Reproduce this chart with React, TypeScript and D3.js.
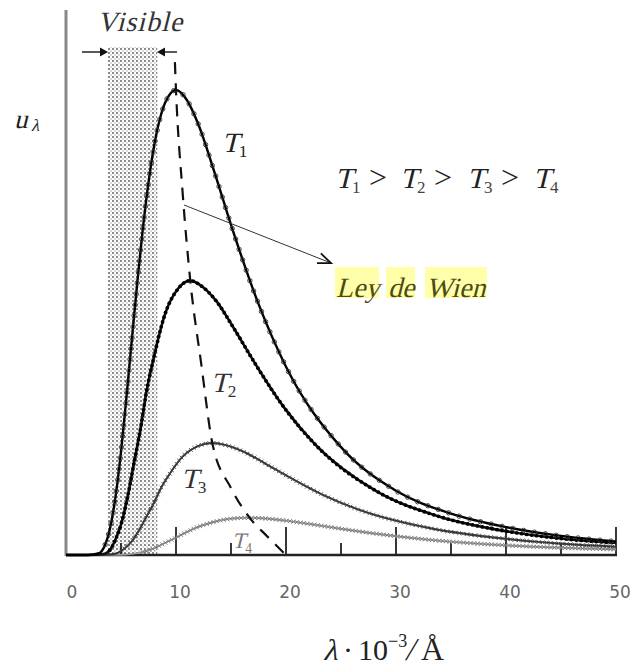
import React, { useEffect, useRef } from 'react'
import * as d3 from 'd3'

// curves (lambda in 10^3 A, u in arbitrary units, T1 peak = 100)
const t1X = [0, 2, 3, 3.5, 4, 4.5, 5, 5.5, 6, 6.5, 7, 8, 9, 10, 11, 12, 13.5, 15, 17.5, 20, 25, 30, 35, 40, 45, 50]
const t1Y = [0, 0, 0.4, 1.9, 5.7, 12.5, 22.2, 34.0, 46.7, 59.1, 70.5, 87.8, 97.2, 100, 97.8, 92.8, 82.3, 71.0, 54.0, 40.5, 23.2, 13.8, 8.9, 6.0, 4.1, 2.9]

const t2X = [0, 2, 3.4, 4.0, 4.5, 5.1, 5.65, 6.2, 6.8, 7.3, 7.9, 9.0, 10.2, 11.3, 12.4, 13.6, 15.3, 17.0, 19.8, 22.6, 28.25, 33.9, 39.55, 45.2, 50]
const t2Y = [0, 0, 0.22, 1.1, 3.33, 7.35, 13.1, 20.0, 27.5, 34.9, 41.6, 51.8, 57.3, 59, 57.7, 54.8, 48.6, 41.9, 31.8, 23.9, 13.7, 8.3, 5.3, 3.5, 2.6]

const t3X = [0, 2.5, 4.0, 4.7, 5.3, 6.0, 6.65, 7.3, 8.0, 8.6, 9.3, 10.6, 12.0, 13.3, 14.6, 16.0, 18.0, 20.0, 23.3, 26.6, 33.25, 39.9, 46.5, 50]
const t3Y = [0, 0, 0.09, 0.45, 1.36, 3.0, 5.35, 8.19, 11.25, 14.25, 16.99, 21.16, 23.43, 24.1, 23.57, 22.36, 19.83, 17.11, 13.0, 9.77, 5.7, 3.5, 2.2, 1.8]

const t4X = [0, 3, 5.0, 5.8, 6.6, 7.5, 8.3, 9.1, 10.0, 10.8, 11.6, 13.3, 14.9, 16.6, 18.3, 19.9, 22.4, 24.9, 29.05, 33.2, 41.5, 50]
const t4Y = [0, 0, 0.03, 0.15, 0.45, 1.0, 1.78, 2.72, 3.73, 4.73, 5.64, 7.02, 7.78, 8.0, 7.82, 7.42, 6.58, 5.68, 4.32, 3.24, 1.9, 1.2]

// Wien displacement locus (dashed)
const wienX = [9.9, 10, 10.6, 11.3, 12.3, 13.3, 15, 16.7, 18.3, 20]
const wienY = [106, 100, 78, 59, 41, 24.1, 14.4, 8, 4, 0]

const majorTicks = [10, 20, 30, 40, 50]
const minorTicks = [5, 15, 25, 35, 45]
const tickLabels = [0, 10, 20, 30, 40, 50]
const visibleRange = [3.8, 8.3]

const serif = 'Liberation Serif, Times New Roman, Tinos, DejaVu Serif, serif'

export default function App() {
  const ref = useRef<SVGSVGElement>(null)

  useEffect(() => {
    document.body.style.margin = '0'
    const svg = d3.select(ref.current)
    svg.selectAll('*').remove()

    const x = d3.scaleLinear().domain([0, 50]).range([66, 616])
    const y = d3.scaleLinear().domain([0, 100]).range([555, 90])
    const line = d3.line<[number, number]>()
      .x(d => x(d[0]))
      .y(d => y(d[1]))
      .curve(d3.curveMonotoneX)

    // plain serif text, and slanted serif (no italic face available)
    const txt = (tx: number, ty: number, s: string, size: number, color: string, anchor = 'start') =>
      svg.append('text').attr('x', tx).attr('y', ty).attr('text-anchor', anchor)
        .style('font-family', serif).attr('font-size', size).attr('fill', color).text(s)
    const ital = (tx: number, ty: number, s: string, size: number, color: string, anchor = 'start') =>
      svg.append('g').attr('transform', `translate(${tx},${ty}) skewX(-14)`)
        .append('text').attr('text-anchor', anchor)
        .style('font-family', serif).attr('font-size', size).attr('fill', color).text(s)

    // dotted pattern for visible band
    const defs = svg.append('defs')
    const pat = defs.append('pattern')
      .attr('id', 'dots')
      .attr('width', 4).attr('height', 4)
      .attr('patternUnits', 'userSpaceOnUse')
    pat.append('circle').attr('cx', 1).attr('cy', 1).attr('r', 0.9).attr('fill', '#555')
    pat.append('circle').attr('cx', 3).attr('cy', 3).attr('r', 0.8).attr('fill', '#aaa')

    svg.append('rect')
      .attr('x', x(visibleRange[0]))
      .attr('y', 47)
      .attr('width', x(visibleRange[1]) - x(visibleRange[0]))
      .attr('height', 555 - 47)
      .attr('fill', 'url(#dots)')

    // axes
    svg.append('line')
      .attr('x1', 66).attr('x2', 66).attr('y1', 10).attr('y2', 556)
      .attr('stroke', '#888').attr('stroke-width', 3)
    svg.append('line')
      .attr('x1', 66).attr('x2', x(50) + 1).attr('y1', 555).attr('y2', 555)
      .attr('stroke', '#222').attr('stroke-width', 2.5)

    svg.selectAll('.major').data(majorTicks).enter().append('line')
      .attr('x1', d => x(d)).attr('x2', d => x(d))
      .attr('y1', 555).attr('y2', 527)
      .attr('stroke', '#222').attr('stroke-width', 1.8)
    svg.selectAll('.minor').data(minorTicks).enter().append('line')
      .attr('x1', d => x(d)).attr('x2', d => x(d))
      .attr('y1', 555).attr('y2', 543)
      .attr('stroke', '#222').attr('stroke-width', 1.8)

    svg.selectAll('.tlabel').data(tickLabels).enter().append('text')
      .attr('x', d => x(d) + (d === 0 ? 6 : 4))
      .attr('y', 598)
      .attr('text-anchor', 'middle')
      .style('font-family', 'DejaVu Sans, Verdana, sans-serif')
      .attr('font-size', 17)
      .attr('fill', '#666')
      .text(d => d)

    const beads = (p: any, step: number, draw: (pt: DOMPoint) => void) => {
      const node = p.node() as SVGPathElement
      const L = node.getTotalLength()
      for (let s = 0; s <= L; s += step) {
        const pt = node.getPointAtLength(s)
        if (pt.y < 552) draw(pt)
      }
    }

    const zip = (a: number[], b: number[]) => a.map((v, i) => [v, b[i]] as [number, number])

    // T4 - grey dotted crosses
    const p4 = svg.append('path').attr('d', line(zip(t4X, t4Y)))
      .attr('fill', 'none').attr('stroke', '#999').attr('stroke-width', 1.6)
    const g4 = svg.append('g')
    beads(p4, 3.5, pt => {
      g4.append('path')
        .attr('d', `M${pt.x - 2},${pt.y - 2}L${pt.x + 2},${pt.y + 2}M${pt.x - 2},${pt.y + 2}L${pt.x + 2},${pt.y - 2}`)
        .attr('stroke', '#777').attr('stroke-width', 0.9)
    })

    // T3 - dark grey with crosses
    const p3 = svg.append('path').attr('d', line(zip(t3X, t3Y)))
      .attr('fill', 'none').attr('stroke', '#333').attr('stroke-width', 2)
    const g3 = svg.append('g')
    beads(p3, 4, pt => {
      g3.append('path')
        .attr('d', `M${pt.x - 1.8},${pt.y - 1.8}L${pt.x + 1.8},${pt.y + 1.8}M${pt.x - 1.8},${pt.y + 1.8}L${pt.x + 1.8},${pt.y - 1.8}`)
        .attr('stroke', '#444').attr('stroke-width', 0.9)
    })

    // T2 - black beaded
    const p2 = svg.append('path').attr('d', line(zip(t2X, t2Y)))
      .attr('fill', 'none').attr('stroke', '#111').attr('stroke-width', 2.6)
    const g2 = svg.append('g')
    beads(p2, 5, pt => {
      g2.append('circle').attr('cx', pt.x).attr('cy', pt.y).attr('r', 1.9).attr('fill', '#000')
    })

    // T1 - black with open circles
    const p1 = svg.append('path').attr('d', line(zip(t1X, t1Y)))
      .attr('fill', 'none').attr('stroke', '#000').attr('stroke-width', 2.4)
    const g1 = svg.append('g')
    beads(p1, 11, pt => {
      g1.append('circle').attr('cx', pt.x).attr('cy', pt.y).attr('r', 2.2)
        .attr('fill', 'none').attr('stroke', '#333').attr('stroke-width', 0.9)
    })

    // Wien dashed locus
    svg.append('path').attr('d', line(zip(wienX, wienY)))
      .attr('fill', 'none').attr('stroke', '#111').attr('stroke-width', 2.2)
      .attr('stroke-dasharray', '12,9')

    // Visible arrows
    const yA = 52
    svg.append('line').attr('x1', 82).attr('x2', 100).attr('y1', yA).attr('y2', yA)
      .attr('stroke', '#222').attr('stroke-width', 1.5)
    svg.append('path').attr('d', `M100,${yA - 4.5}L108,${yA}L100,${yA + 4.5}Z`).attr('fill', '#111')
    svg.append('line').attr('x1', 177).attr('x2', 165).attr('y1', yA).attr('y2', yA)
      .attr('stroke', '#222').attr('stroke-width', 1.5)
    svg.append('path').attr('d', `M165,${yA - 4.5}L157,${yA}L165,${yA + 4.5}Z`).attr('fill', '#111')

    ital(140, 31, 'Visible', 28, '#333', 'middle').attr('letter-spacing', 1)

    // Wien arrow
    const ax1 = 184, ay1 = 205, ax2 = 331, ay2 = 263
    svg.append('line').attr('x1', ax1).attr('y1', ay1).attr('x2', ax2).attr('y2', ay2)
      .attr('stroke', '#333').attr('stroke-width', 1)
    const ang = Math.atan2(ay2 - ay1, ax2 - ax1)
    const head = (da: number) => [ax2 - 14 * Math.cos(ang + da), ay2 - 14 * Math.sin(ang + da)]
    const hA = head(0.38), hB = head(-0.38)
    svg.append('path').attr('d', `M${hA[0]},${hA[1]}L${ax2},${ay2}L${hB[0]},${hB[1]}`)
      .attr('fill', 'none').attr('stroke', '#111').attr('stroke-width', 1.8)

    // Ley de Wien highlight
    const boxes = [[335, 44], [386, 29], [425, 62]]
    boxes.forEach(b => {
      svg.append('rect').attr('x', b[0]).attr('y', 267).attr('width', b[1]).attr('height', 31)
        .attr('fill', '#ffffaa')
    })
    ital(336, 297, 'Ley', 28, '#4b4b14')
    ital(388, 297, 'de', 28, '#4b4b14')
    ital(426, 297, 'Wien', 28, '#4b4b14')

    // T labels
    const tLabel = (tx: number, ty: number, sub: string, color: string, size = 28) => {
      ital(tx, ty, 'T', size, color)
      txt(tx + size * 0.6, ty + 5, sub, size * 0.62, color)
    }
    tLabel(222, 152, '1', '#222')
    tLabel(211, 392, '2', '#333')
    tLabel(181, 488, '3', '#333')
    tLabel(232, 548, '4', '#777', 22)

    // T1 > T2 > T3 > T4
    const relX = [335, 400, 467, 533]
    relX.forEach((rx, i) => {
      ital(rx, 188, 'T', 29, '#222')
      txt(rx + 17, 193, String(i + 1), 17, '#444')
      if (i < 3) txt(rx + 34, 188, '>', 32, '#222')
    })

    // u_lambda
    ital(14, 128, 'u', 27, '#222')
    ital(31, 131, 'λ', 17, '#222')

    // x axis title
    ital(323, 660, 'λ', 30, '#222')
    txt(348, 660, '·', 30, '#222', 'middle')
    txt(358, 660, '10', 30, '#222')
    txt(388, 647, '−3', 18, '#222')
    ital(405, 660, '/', 32, '#222')
    txt(421, 660, 'Å', 32, '#222')
  }, [])

  return <svg ref={ref} width={634} height={670} style={{ display: 'block', background: '#fff' }} />
}
